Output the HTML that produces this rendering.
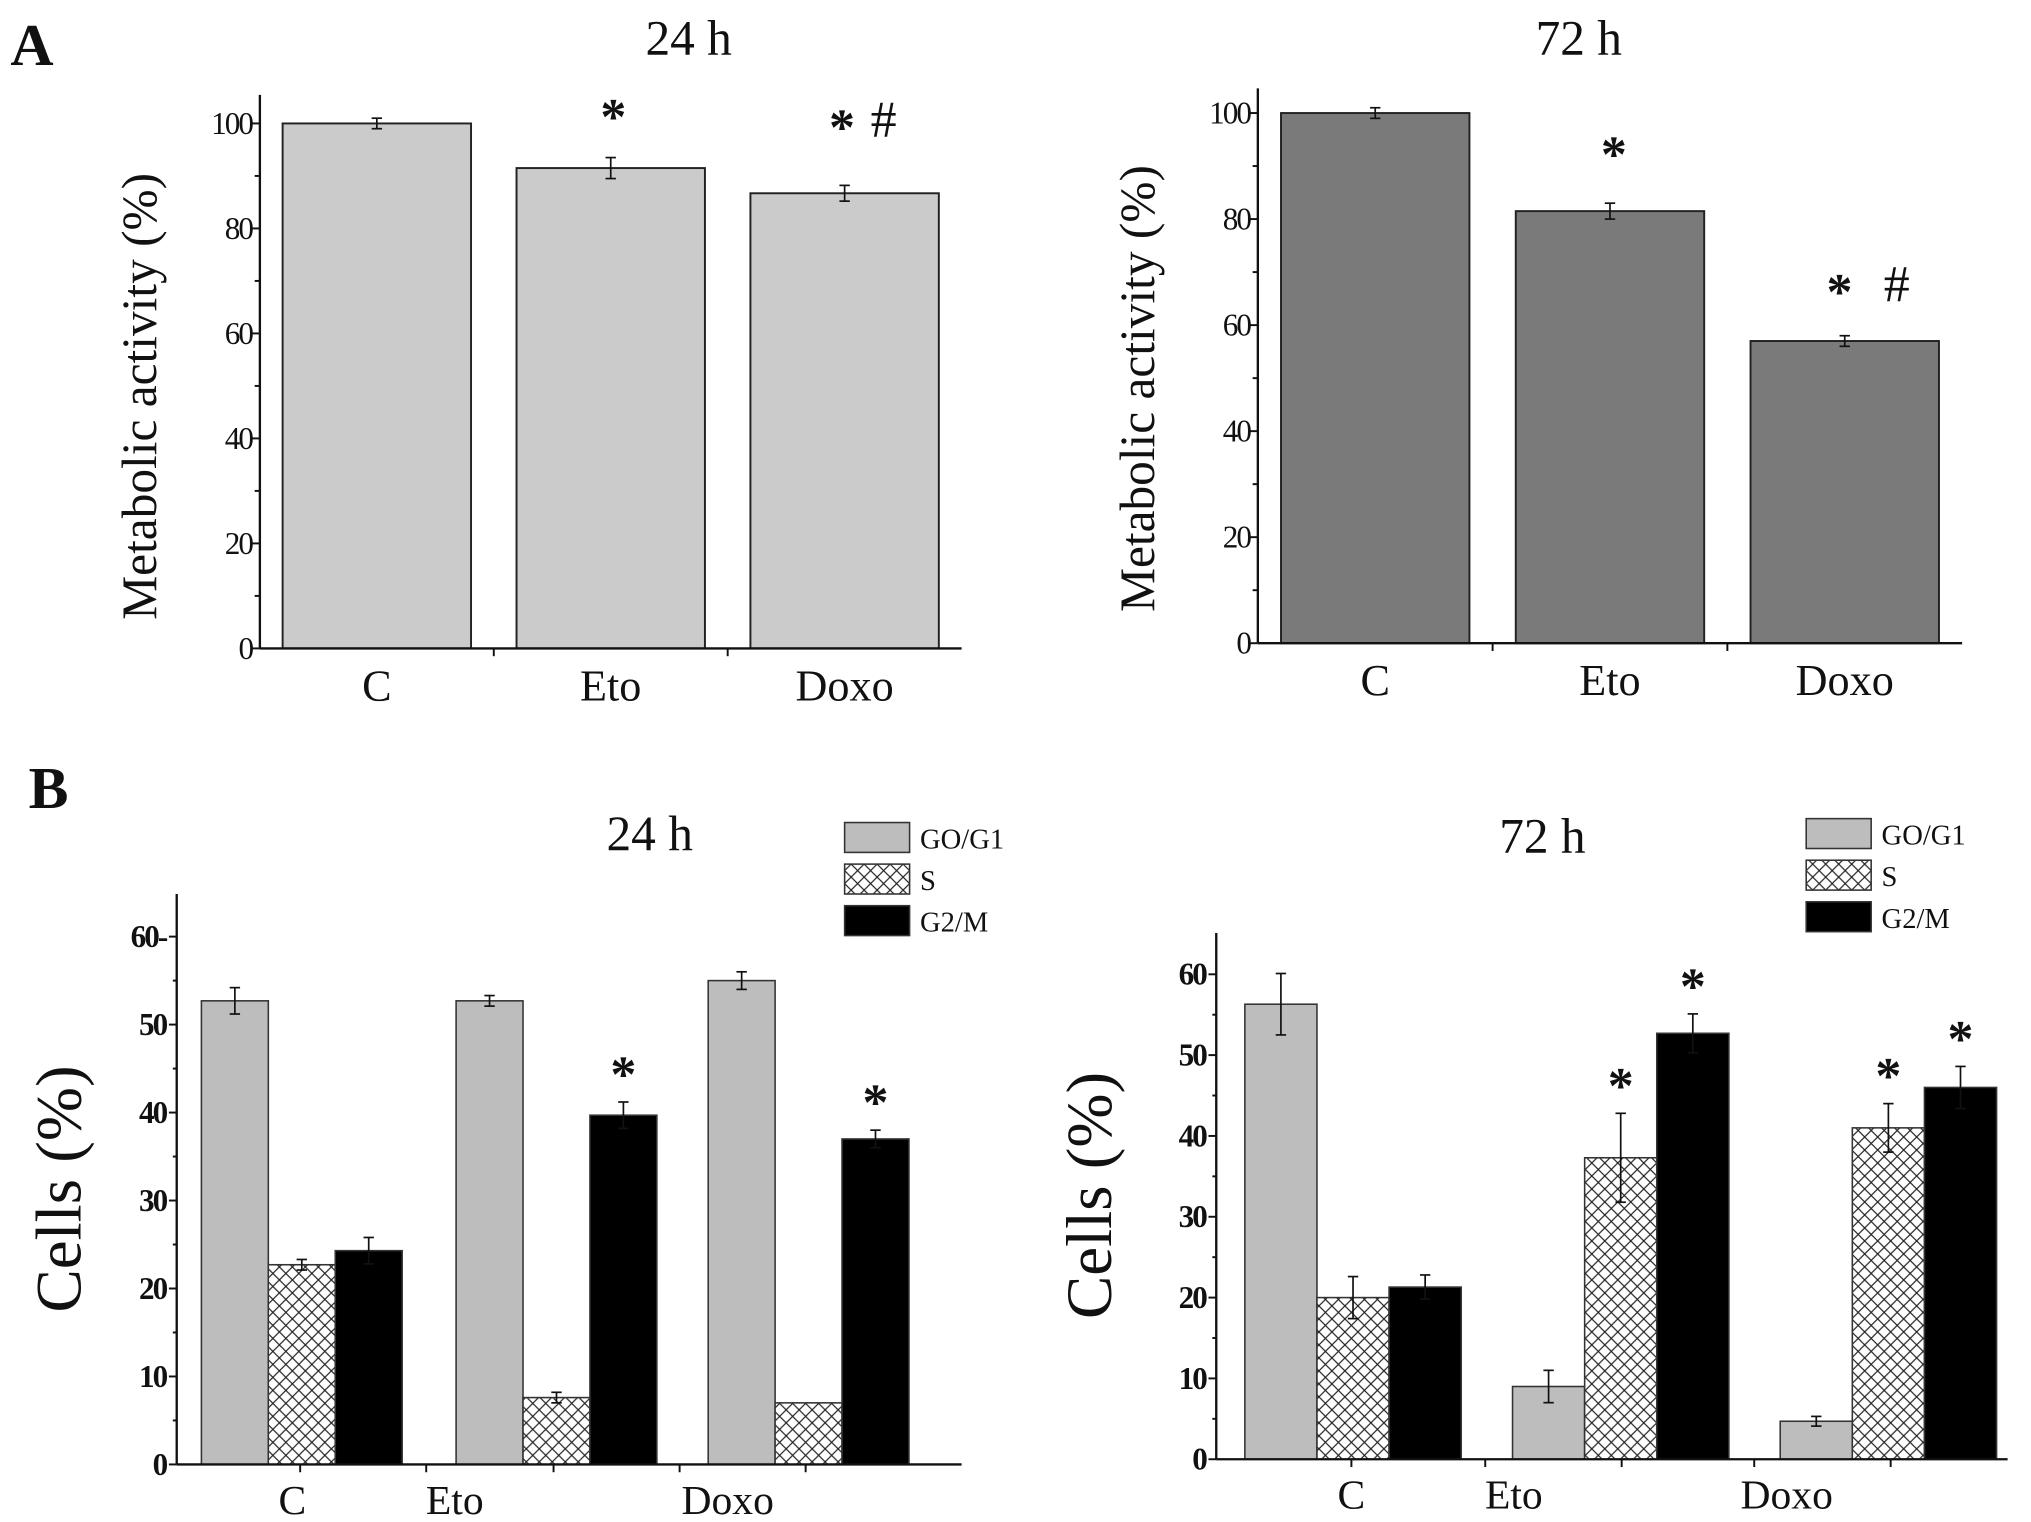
<!DOCTYPE html>
<html><head><meta charset="utf-8">
<style>
html,body{margin:0;padding:0;background:#fff;}
svg{display:block;}
text{font-family:"Liberation Serif",serif;fill:#111;}
</style></head>
<body>
<svg id="fig" width="2031" height="1522" viewBox="0 0 1563 1171.3" preserveAspectRatio="none" xmlns="http://www.w3.org/2000/svg">
<defs>
<pattern id="hatch" width="10" height="10" patternUnits="userSpaceOnUse">
<rect width="10" height="10" fill="#fff"/>
<path d="M0,0 L10,10 M10,0 L0,10 M-5,5 L5,-5 M5,15 L15,5 M-5,5 L5,15 M5,-5 L15,5" stroke="#222" stroke-width="0.9"/>
</pattern>
</defs>
<g id="root"></g>
</svg>
<script>
// Panel A data
const aCats = ['C','Eto','Doxo'];
const a24Values = [100, 91.5, 86.7];
const a24Errors = [1, 2, 1.5];
const a72Values = [100, 81.5, 57];
const a72Errors = [1, 1.5, 1];
const aTicks = [0,20,40,60,80,100];
// Panel B data
const bCats = ['C','Eto','Doxo'];
const bSeries = ['GO/G1','S','G2/M'];
const b24G1 = [52.7, 52.7, 55];
const b24S = [22.7, 7.6, 7];
const b24G2M = [24.3, 39.7, 37];
const b24G1Err = [1.5, 0.6, 1];
const b24SErr = [0.6, 0.6, 0];
const b24G2MErr = [1.5, 1.5, 1];
const b72G1 = [56.3, 9, 4.7];
const b72S = [20, 37.3, 41];
const b72G2M = [21.3, 52.7, 46];
const b72G1Err = [3.8, 2, 0.6];
const b72SErr = [2.6, 5.5, 3];
const b72G2MErr = [1.5, 2.4, 2.6];
const bTicks = [0,10,20,30,40,50,60];

const NS='http://www.w3.org/2000/svg';
const root=document.getElementById('root');
function el(tag,attrs,parent,txt){const e=document.createElementNS(NS,tag);for(const k in attrs)e.setAttribute(k,attrs[k]);if(txt!==undefined)e.textContent=txt;(parent||root).appendChild(e);return e;}
function line(g,x1,y1,x2,y2,w){return el('line',{x1,y1,x2,y2,stroke:'#111','stroke-width':w||1.5},g);}
function errBar(g,x,yTop,yBot,cap){line(g,x,yTop,x,yBot,1.3);line(g,x-cap,yTop,x+cap,yTop,1.3);line(g,x-cap,yBot,x+cap,yBot,1.3);}

function panelA(cfg){
  const g=el('g',{});
  
  
  const y=v=>cfg.y0-(cfg.y0-cfg.y100)*v/100;
  const span=(cfg.xEnd-cfg.x0)/3;
  cfg.values.forEach((v,i)=>{
    const cx=cfg.x0+span*(i+0.5), w=cfg.bw;
    const r=el('rect',{x:cx-w/2,y:y(v),width:w,height:cfg.y0-y(v),fill:cfg.fill,stroke:'#222','stroke-width':1.5},g);
    
    
    const e=cfg.errors[i];
    errBar(g,cx,y(v+e),y(v-e),4);
    const t=el('text',{x:cx,y:cfg.y0+40,'text-anchor':'middle','font-size':34},g,aCats[i]);
    
    
    if(i>0){line(g,cfg.x0+span*i,cfg.y0,cfg.x0+span*i,cfg.y0+6);}
  });
  const ax=line(g,cfg.x0,cfg.yTop,cfg.x0,cfg.y0,1.8);
  
  
  const bx=line(g,cfg.x0,cfg.y0,cfg.xEnd,cfg.y0,1.8);
  
  
  for(let v=0;v<=100;v+=10){line(g,cfg.x0-(v%20===0?7:4),y(v),cfg.x0,y(v));}
  aTicks.forEach(v=>{
    const t=el('text',{x:cfg.x0-6,y:y(v)+8,'text-anchor':'end','font-size':24,'letter-spacing':'-1.5'},g,v);
    
    
  });
  const yt=el('text',{x:0,y:0,'text-anchor':'middle','font-size':38,transform:`translate(${cfg.x0-80},${(cfg.y0+cfg.y100)/2+8}) rotate(-90)`},g,'Metabolic activity (%)');
  
  
  const tt=el('text',{x:cfg.titleX,y:42,'text-anchor':'middle','font-size':38},g,cfg.title);
  
  
  cfg.marks.forEach(m=>{
    const cx=cfg.x0+span*(m.i+0.5)+m.dx;
    const t=el('text',{x:cx,y:y(m.v),'text-anchor':'middle','font-size':m.s==='#'?40:40,'font-weight':m.s==='*'?'bold':'normal'},g,m.s);
    
    
  });
}

panelA({name:'chart-a-24h',x0:200,xEnd:740,y0:499,y100:95,yTop:73,bw:145,fill:'#cbcbcb',values:a24Values,errors:a24Errors,title:'24 h',titleX:530,
  marks:[{i:1,v:98,s:'*',dx:2},{i:2,v:96,s:'*',dx:-2},{i:2,v:97.5,s:'#',dx:30}]});
panelA({name:'chart-a-72h',x0:968,xEnd:1510,y0:495,y100:87,yTop:68,bw:145,fill:'#7a7a7a',values:a72Values,errors:a72Errors,title:'72 h',titleX:1215,
  marks:[{i:1,v:89,s:'*',dx:3},{i:2,v:63,s:'*',dx:-4},{i:2,v:64.5,s:'#',dx:40}]});

function panelB(cfg){
  const g=el('g',{});
  
  
  const y=v=>cfg.y0-cfg.per10*v/10;
  const series=[cfg.g1,cfg.s,cfg.g2m], errs=[cfg.g1e,cfg.se,cfg.g2me];
  const fills=['#bdbdbd','url(#hatch)','#000'];
  const names=['bar-g0g1','bar-s','bar-g2m'];
  bCats.forEach((c,i)=>{
    const gx=cfg.groupX[i];
    series.forEach((arr,k)=>{
      const v=arr[i], x=gx+k*cfg.bw;
      const r=el('rect',{x,y:y(v),width:cfg.bw,height:cfg.y0-y(v),fill:fills[k],stroke:'#333','stroke-width':1.2},g);
      
      
      const e=errs[k][i];
      if(e>0) errBar(g,x+cfg.bw/2,y(v+e),y(v-e),4);
      if(cfg.stars[k][i]){
        const t=el('text',{x:x+cfg.bw/2,y:y(v+e)-8,'text-anchor':'middle','font-size':40,'font-weight':'bold'},g,'*');
        
        
      }
    });
  });
  const ax=line(g,cfg.x0,cfg.yTop,cfg.x0,cfg.y0,1.8);
  
  
  const bx=line(g,cfg.x0,cfg.y0,cfg.xEnd,cfg.y0,1.8);
  
  
  for(let v=0;v<=60;v+=5){line(g,cfg.x0-(v%10===0?6:3),y(v),cfg.x0,y(v));}
  cfg.xTicks.forEach(x=>line(g,x,cfg.y0,x,cfg.y0+6));
  bTicks.forEach(v=>{
    const t=el('text',{x:cfg.x0-8,y:y(v)+8,'text-anchor':'end','font-size':24,'font-weight':'bold','letter-spacing':'-1.5'},g,(cfg.dash60&&v===60)?'60-':v);
    
    
  });
  bCats.forEach((c,i)=>{
    const t=el('text',{x:cfg.labelX[i],y:cfg.y0+38,'text-anchor':'middle','font-size':32},g,c);
    
    
  });
  const yt=el('text',{x:0,y:0,'text-anchor':'middle','font-size':50,transform:`translate(${cfg.yTitleX},${cfg.yTitleY}) rotate(-90)`},g,'Cells (%)');
  
  
  const tt=el('text',{x:cfg.titleX,y:cfg.titleY,'text-anchor':'middle','font-size':38},g,cfg.title);
  
  
  const lg=el('g',{},g);
  
  
  bSeries.forEach((s,k)=>{
    const ly=cfg.legY+k*32;
    const r=el('rect',{x:cfg.legX,y:ly,width:50,height:23,fill:fills[k],stroke:'#333','stroke-width':1.2},lg);
    
    
    const t=el('text',{x:cfg.legX+58,y:ly+20,'font-size':22},lg,s);
    
    
  });
}

panelB({name:'chart-b-24h',x0:136,xEnd:740,y0:1127,per10:67.7,yTop:688,bw:51.5,groupX:[155,351,545],
  g1:b24G1,s:b24S,g2m:b24G2M,g1e:b24G1Err,se:b24SErr,g2me:b24G2MErr,
  stars:[[0,0,0],[0,0,0],[0,1,1]],xTicks:[231,328,426,523,620],labelX:[225,350,560],
  yTitleX:62,yTitleY:915,title:'24 h',titleX:500,titleY:654,legX:650,legY:633,dash60:true});
panelB({name:'chart-b-72h',x0:936,xEnd:1545,y0:1123,per10:62.2,yTop:718,bw:55.5,groupX:[958,1164,1370],
  g1:b72G1,s:b72S,g2m:b72G2M,g1e:b72G1Err,se:b72SErr,g2me:b72G2MErr,
  stars:[[0,0,0],[0,1,1],[0,1,1]],xTicks:[1040,1143,1248,1350,1455],labelX:[1040,1165,1375],
  yTitleX:855,yTitleY:920,title:'72 h',titleX:1187,titleY:656,legX:1390,legY:630,dash60:false});

const A=el('text',{x:8,y:50,'font-size':46,'font-weight':'bold'},root,'A');


const B=el('text',{x:22,y:622,'font-size':46,'font-weight':'bold'},root,'B');


</script>
</body></html>
